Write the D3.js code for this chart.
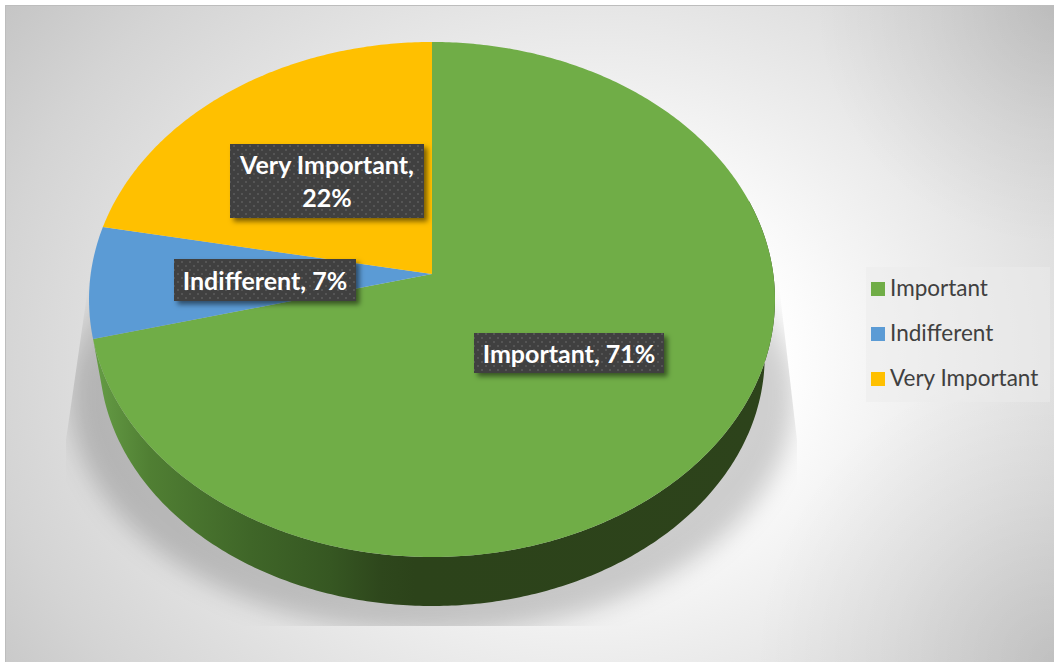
<!DOCTYPE html>
<html>
<head>
<meta charset="utf-8">
<script src="https://cdn.jsdelivr.net/npm/d3@7/dist/d3.min.js"></script>
<style>
  html, body { margin: 0; padding: 0; background: #fff; overflow: hidden; }
  svg { display: block; }
  text { font-family: Lato, "Noto Sans", sans-serif; }
</style>
</head>
<body>
<svg id="chart" width="1054" height="662"></svg>
<script>
// Survey answers, in drawing order (clockwise from twelve o'clock)
const categories = ["Important", "Indifferent", "Very Important"];
const shares = [71, 7, 22];
const sliceColors = ["#70ad47", "#5b9bd5", "#ffc000"];
const labelLines = [["Important, 71%"], ["Indifferent, 7%"], ["Very Important,", "22%"]];

const svg = d3.select("#chart");
const W = 1054, H = 662;
const defs = svg.append("defs");

// Tilted disc: a perspective projection of the unit circle
const persp = 0.099;
const hub = { x: 432, y: 274 };
const rimDrop = 57.5, rimScale = 0.97;
const sx = d3.scaleLinear().domain([-1, 1]).range([hub.x - 341.3, hub.x + 341.3]);
const sy = d3.scaleLinear().domain([-1, 1]).range([hub.y + 255, hub.y - 255]);

function project(theta, r, scale = 1, drop = 0) {
  const u = r * Math.sin(theta), v = r * Math.cos(theta);
  const w = 1 + persp * v;
  return [
    hub.x + (sx(u / w) - hub.x) * scale,
    hub.y + drop + (sy(v / w) - hub.y) * scale
  ];
}
const line = d3.line();
const arcPoints = (a0, a1, scale, drop) => {
  const n = Math.max(8, Math.ceil((a1 - a0) * 90));
  return d3.range(n + 1).map(i => project(a0 + (a1 - a0) * i / n, 1, scale, drop));
};

// Panel background
const base = defs.append("radialGradient").attr("id", "panel")
  .attr("gradientUnits", "userSpaceOnUse")
  .attr("cx", 0).attr("cy", 0).attr("r", 1)
  .attr("gradientTransform", "translate(590,360) scale(750,625)");
[[0, "#ffffff"], [0.25, "#ffffff"], [0.46, "#eeeeee"], [0.64, "#e0e0e0"], [0.8, "#d4d4d4"], [1, "#c2c2c2"]]
  .forEach(([o, c]) => base.append("stop").attr("offset", o).attr("stop-color", c));

const corner = defs.append("radialGradient").attr("id", "cornerShade");
[[0, 0.1], [0.55, 0.04], [1, 0]].forEach(([o, a]) =>
  corner.append("stop").attr("offset", o).attr("stop-color", "#000").attr("stop-opacity", a));

svg.append("rect").attr("x", 5).attr("y", 5).attr("width", W - 5).attr("height", H - 5)
  .attr("fill", "url(#panel)");
const panelClip = defs.append("clipPath").attr("id", "panelClip");
panelClip.append("rect").attr("x", 5).attr("y", 5).attr("width", W - 5).attr("height", H - 5);
const shades = svg.append("g").attr("clip-path", "url(#panelClip)");
[[W, H, 300], [W, 5, 240]].forEach(([x, y, r]) =>
  shades.append("circle").attr("cx", x).attr("cy", y).attr("r", r).attr("fill", "url(#cornerShade)"));

svg.append("path").attr("d", `M5.5,${H} V5.5 H${W}`)
  .attr("fill", "none").attr("stroke", "#bdbdbd").attr("stroke-width", 1);

// Soft floor shadow under the disc, trimmed to a trapezoid
const blur = defs.append("filter").attr("id", "soft")
  .attr("x", "-20%").attr("y", "-20%").attr("width", "140%").attr("height", "140%");
blur.append("feGaussianBlur").attr("stdDeviation", 12);

const fade = defs.append("linearGradient").attr("id", "shadowFade")
  .attr("x1", 0).attr("y1", 0).attr("x2", 0).attr("y2", 1);
[[0, 0], [0.05, 0.02], [0.3, 0.14], [0.45, 0.19], [1, 0.19]].forEach(([o, a]) =>
  fade.append("stop").attr("offset", o).attr("stop-color", "#000").attr("stop-opacity", a));

defs.append("clipPath").attr("id", "floorClip").append("polygon")
  .attr("points", "97,225 66,440 66,626 797,626 797,440 772,225");

svg.append("g").attr("clip-path", "url(#floorClip)")
  .append("ellipse")
  .attr("cx", hub.x).attr("cy", 395).attr("rx", 362).attr("ry", 238)
  .attr("fill", "url(#shadowFade)").attr("filter", "url(#soft)");

// Pie geometry
const pie = d3.pie().sort(null).value(d => d)(shares);

// Side wall of the disc: the only slice facing the viewer is the first one
const wallGrad = defs.append("linearGradient").attr("id", "wall")
  .attr("gradientUnits", "userSpaceOnUse")
  .attr("x1", 95).attr("y1", 0).attr("x2", 775).attr("y2", 0);
[[0, "#659c45"], [0.08, "#507f33"], [0.228, "#3f6628"], [0.346, "#365722"], [0.42, "#2e471c"], [0.47, "#2c431a"], [1, "#2d431b"]]
  .forEach(([o, c]) => wallGrad.append("stop").attr("offset", o).attr("stop-color", c));

const front = pie[0];
const wallStart = Math.PI / 2 - 0.3;
const wallPts = arcPoints(wallStart, front.endAngle, 1, 0)
  .concat(arcPoints(wallStart, front.endAngle, rimScale, rimDrop).reverse());
svg.append("path").attr("d", line(wallPts) + "Z").attr("fill", "url(#wall)");

// Top face
svg.append("g").selectAll("path").data(pie).join("path")
  .attr("d", d => line([[hub.x, hub.y], ...arcPoints(d.startAngle, d.endAngle, 1, 0)]) + "Z")
  .attr("fill", (d, i) => sliceColors[i]);

// Dotted dark plate behind each data label
const dots = defs.append("pattern").attr("id", "dots").attr("patternUnits", "userSpaceOnUse")
  .attr("width", 8).attr("height", 8);
dots.append("rect").attr("width", 8).attr("height", 8).attr("fill", "#404040");
[[1, 1], [5, 5]].forEach(([x, y]) =>
  dots.append("rect").attr("x", x).attr("y", y).attr("width", 2).attr("height", 2).attr("fill", "#555555"));

const drop = defs.append("filter").attr("id", "plateShadow")
  .attr("x", "-10%").attr("y", "-20%").attr("width", "120%").attr("height", "150%");
drop.append("feDropShadow").attr("dx", 3.5).attr("dy", 3.5).attr("stdDeviation", 2.5)
  .attr("flood-color", "#000").attr("flood-opacity", 0.5);

const plateBoxes = [[474, 333, 190, 40], [174, 259, 182, 42], [230, 144, 194, 74]];
const plates = svg.append("g").selectAll("g").data(labelLines).join("g");
plates.append("rect")
  .attr("x", (d, i) => plateBoxes[i][0]).attr("y", (d, i) => plateBoxes[i][1])
  .attr("width", (d, i) => plateBoxes[i][2]).attr("height", (d, i) => plateBoxes[i][3])
  .attr("fill", "url(#dots)").attr("filter", "url(#plateShadow)");
plates.each(function(lines, i) {
  const [x, y, w, h] = plateBoxes[i];
  const step = 33;
  const top = y + h / 2 - step * (lines.length - 1) / 2 + 9.5;
  d3.select(this).selectAll("text").data(lines).join("text")
    .attr("x", x + w / 2)
    .attr("y", (d, j) => top + j * step)
    .attr("text-anchor", "middle")
    .attr("font-size", 25).attr("font-weight", 700).attr("fill", "#fff")
    .text(d => d);
});

// Legend
const legendY = d3.scalePoint().domain(categories).range([289, 379]);
const legend = svg.append("g");
legend.append("rect").attr("x", 866).attr("y", 267).attr("width", 184).attr("height", 135)
  .attr("fill", "#ebebeb").attr("fill-opacity", 0.5);
const rows = legend.selectAll("g").data(categories).join("g")
  .attr("transform", d => `translate(871,${legendY(d)})`);
rows.append("rect").attr("y", -7).attr("width", 14).attr("height", 14)
  .attr("fill", (d, i) => sliceColors[i]);
rows.append("text").attr("x", 19).attr("y", 7)
  .attr("font-size", 22.5).attr("fill", "#404040").text(d => d);
</script>
</body>
</html>
